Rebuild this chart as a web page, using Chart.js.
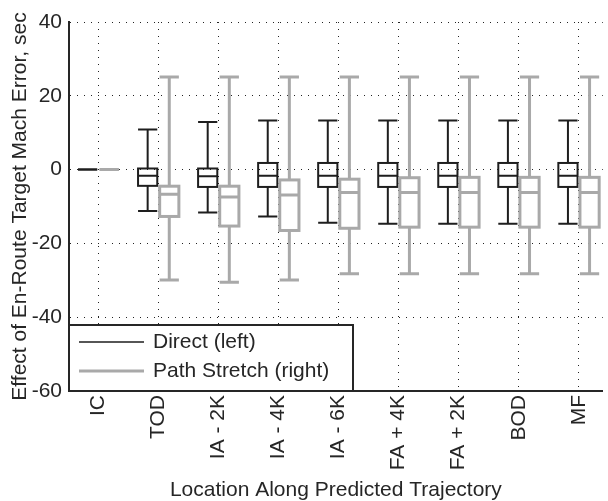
<!DOCTYPE html>
<html>
<head>
<meta charset="utf-8">
<script src="https://cdn.jsdelivr.net/npm/chart.js@4.4.1/dist/chart.umd.min.js"></script>
<style>
  html, body { margin: 0; padding: 0; background: #fff; }
</style>
</head>
<body>
<canvas id="mach-chart" width="608" height="501"></canvas>
<script>
const locations = ["IC", "TOD", "IA - 2K", "IA - 4K", "IA - 6K", "FA + 4K", "FA + 2K", "BOD", "MF"];
const yTicks = [-60, -40, -20, 0, 20, 40];

// Direct (left): whisker ends, quartiles and median at each location
const directMin = [0, -11.2, -11.6, -12.7, -14.4, -14.7, -14.7, -14.7, -14.7];
const directQ1 = [0, -4.4, -4.7, -4.7, -4.7, -4.7, -4.7, -4.7, -4.7];
const directMed = [0, -1.7, -1.8, -1.7, -1.7, -1.7, -1.7, -1.7, -1.7];
const directQ3 = [0, 0.3, 0.3, 1.8, 1.8, 1.8, 1.8, 1.8, 1.8];
const directMax = [0, 10.9, 12.9, 13.3, 13.3, 13.3, 13.3, 13.3, 13.3];

// Path Stretch (right)
const stretchMin = [0, -29.9, -30.5, -29.9, -28.2, -28.2, -28.2, -28.2, -28.2];
const stretchQ1 = [0, -12.7, -15.3, -16.5, -15.9, -15.6, -15.6, -15.6, -15.6];
const stretchMed = [0, -6.7, -7.4, -6.9, -6.2, -6.2, -6.2, -6.2, -6.2];
const stretchQ3 = [0, -4.5, -4.5, -2.8, -2.6, -2.2, -2.1, -2.1, -2.1];
const stretchMax = [0, 25.1, 25.1, 25.1, 25.1, 25.1, 25.1, 25.1, 25.1];

const TEXT = "#262626";
const FONT = "'Liberation Sans', Arial, sans-serif";

const groups = [
  { label: "Direct (left)", color: "#1e1e1e", width: 2, side: -1,
    min: directMin, q1: directQ1, med: directMed, q3: directQ3, max: directMax },
  { label: "Path Stretch (right)", color: "#a9a9a9", width: 3, side: 1,
    min: stretchMin, q1: stretchQ1, med: stretchMed, q3: stretchQ3, max: stretchMax }
];

// draws the box-and-whisker marks on the x/y scales
const boxPlots = {
  id: "boxPlots",
  afterDatasetsDraw(chart) {
    const { ctx, scales: { x, y } } = chart;
    const step = x.getPixelForValue(2) - x.getPixelForValue(1);
    const half = step * 0.16;
    ctx.save();
    ctx.lineCap = "butt";
    groups.forEach(g => {
      ctx.strokeStyle = g.color;
      ctx.lineWidth = g.width;
      locations.forEach((name, i) => {
        const cx = x.getPixelForValue(i + 1) + g.side * step * 0.18;
        const yMin = y.getPixelForValue(g.min[i]);
        const yQ1 = y.getPixelForValue(g.q1[i]);
        const yMed = y.getPixelForValue(g.med[i]);
        const yQ3 = y.getPixelForValue(g.q3[i]);
        const yMax = y.getPixelForValue(g.max[i]);
        ctx.beginPath();
        ctx.moveTo(cx, yQ3); ctx.lineTo(cx, yMax);
        ctx.moveTo(cx, yQ1); ctx.lineTo(cx, yMin);
        ctx.moveTo(cx - half, yMax); ctx.lineTo(cx + half, yMax);
        ctx.moveTo(cx - half, yMin); ctx.lineTo(cx + half, yMin);
        ctx.moveTo(cx - half, yMed); ctx.lineTo(cx + half, yMed);
        ctx.stroke();
        ctx.strokeRect(cx - half, yQ3, half * 2, yQ1 - yQ3);
      });
    });
    ctx.restore();
  }
};

// legend box sitting in the lower left corner of the plot
const insetLegend = {
  id: "insetLegend",
  afterDraw(chart) {
    const { ctx, chartArea } = chart;
    const w = 284, h = 66;
    const left = chartArea.left, top = chartArea.bottom - h;
    ctx.save();
    ctx.fillStyle = "#fff";
    ctx.fillRect(left, top, w, h);
    ctx.strokeStyle = TEXT;
    ctx.lineWidth = 2;
    ctx.strokeRect(left, top, w, h);
    ctx.font = "21px " + FONT;
    ctx.textBaseline = "middle";
    groups.forEach((g, k) => {
      const ly = top + 17 + k * 29;
      ctx.strokeStyle = g.color;
      ctx.lineWidth = g.width === 2 ? 1.5 : 3;
      ctx.beginPath();
      ctx.moveTo(left + 10, ly);
      ctx.lineTo(left + 75, ly);
      ctx.stroke();
      ctx.fillStyle = TEXT;
      ctx.fillText(g.label, left + 84, ly);
    });
    ctx.restore();
  }
};

new Chart(document.getElementById("mach-chart"), {
  type: "scatter",
  data: { datasets: [] },
  plugins: [boxPlots, insetLegend],
  options: {
    responsive: false,
    animation: false,
    devicePixelRatio: 1,
    layout: { padding: { top: 22, right: 1, left: 0, bottom: 0 } },
    plugins: { legend: { display: false }, tooltip: { enabled: false } },
    scales: {
      x: {
        type: "linear",
        min: 0.51,
        max: 9.4,
        afterFit(scale) { scale.height = 110; },
        afterBuildTicks(scale) {
          scale.ticks = locations.map((n, i) => ({ value: i + 1 }));
        },
        ticks: {
          autoSkip: false,
          minRotation: 90,
          maxRotation: 90,
          padding: 4,
          color: TEXT,
          font: { family: FONT, size: 21 },
          callback: v => locations[v - 1]
        },
        grid: { color: "#222", lineWidth: 1, drawTicks: false },
        border: { display: true, color: TEXT, width: 2, dash: [1, 6] },
        title: {
          display: true,
          text: "Location Along Predicted Trajectory",
          color: TEXT,
          font: { family: FONT, size: 21, lineHeight: 1 },
          padding: 0
        }
      },
      y: {
        min: -60,
        max: 40,
        afterFit(scale) { scale.width = 69; },
        afterBuildTicks(scale) {
          scale.ticks = yTicks.map(v => ({ value: v }));
        },
        ticks: {
          padding: 7,
          color: TEXT,
          font: { family: FONT, size: 21 }
        },
        grid: { color: "#222", lineWidth: 1, drawTicks: false },
        border: { display: true, color: TEXT, width: 2, dash: [1, 6] },
        title: {
          display: true,
          text: "Effect of En-Route Target Mach Error, sec",
          color: TEXT,
          font: { family: FONT, size: 21, lineHeight: 1.2 },
          padding: { top: 8, bottom: 0 }
        }
      }
    }
  }
});
</script>
</body>
</html>
